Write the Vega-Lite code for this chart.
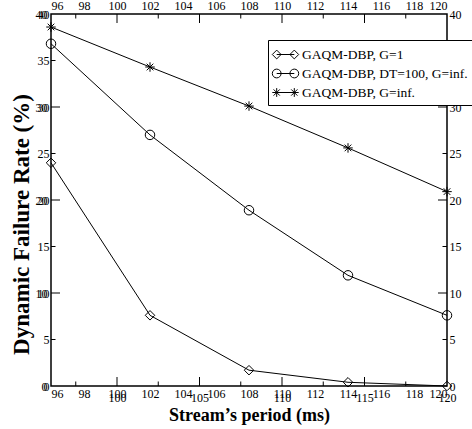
{
  "$schema": "https://vega.github.io/schema/vega-lite/v6.json",
  "autosize": {"type": "none"},
  "width": 396,
  "height": 372,
  "padding": {"left": 51, "top": 14, "right": 25, "bottom": 43},
  "background": "white",
  "config": {
    "font": "Liberation Serif",
    "view": {"stroke": "black", "strokeWidth": 1.5},
    "axis": {
      "domain": false,
      "ticks": false,
      "grid": false,
      "labelColor": "black",
      "titleColor": "black",
      "labelFont": "Liberation Serif",
      "titleFont": "Liberation Serif",
      "labelFontSize": 12,
      "titleFontWeight": "bold"
    }
  },
  "datasets": {
    "curves": [
      {"series": "GAQM-DBP, G=1", "period": 96, "rate": 24.0},
      {"series": "GAQM-DBP, G=1", "period": 102, "rate": 7.6},
      {"series": "GAQM-DBP, G=1", "period": 108, "rate": 1.7},
      {"series": "GAQM-DBP, G=1", "period": 114, "rate": 0.4},
      {"series": "GAQM-DBP, G=1", "period": 120, "rate": 0.0},
      {"series": "GAQM-DBP, DT=100, G=inf.", "period": 96, "rate": 36.8},
      {"series": "GAQM-DBP, DT=100, G=inf.", "period": 102, "rate": 27.0},
      {"series": "GAQM-DBP, DT=100, G=inf.", "period": 108, "rate": 18.9},
      {"series": "GAQM-DBP, DT=100, G=inf.", "period": 114, "rate": 11.9},
      {"series": "GAQM-DBP, DT=100, G=inf.", "period": 120, "rate": 7.6},
      {"series": "GAQM-DBP, G=inf.", "period": 96, "rate": 38.6},
      {"series": "GAQM-DBP, G=inf.", "period": 102, "rate": 34.3},
      {"series": "GAQM-DBP, G=inf.", "period": 108, "rate": 30.1},
      {"series": "GAQM-DBP, G=inf.", "period": 114, "rate": 25.6},
      {"series": "GAQM-DBP, G=inf.", "period": 120, "rate": 20.9}
    ],
    "xticks": [
      {"value": 97.5, "kind": "minor"},
      {"value": 100, "kind": "major"},
      {"value": 102.5, "kind": "minor"},
      {"value": 105, "kind": "major"},
      {"value": 107.5, "kind": "minor"},
      {"value": 110, "kind": "major"},
      {"value": 112.5, "kind": "minor"},
      {"value": 115, "kind": "major"},
      {"value": 117.5, "kind": "minor"}
    ],
    "yticks": [
      {"value": 5, "kind": "minor"},
      {"value": 10, "kind": "major"},
      {"value": 15, "kind": "minor"},
      {"value": 20, "kind": "major"},
      {"value": 25, "kind": "minor"},
      {"value": 30, "kind": "major"},
      {"value": 35, "kind": "minor"}
    ]
  },
  "resolve": {
    "axis": {"x": "independent", "y": "independent"},
    "scale": {"shape": "independent"},
    "legend": {"shape": "independent"}
  },
  "layer": [
    {
      "data": {"name": "xticks"},
      "mark": {"type": "tick", "orient": "vertical", "color": "black", "thickness": 1, "clip": true, "opacity": 1},
      "encoding": {
        "x": {"field": "value", "type": "quantitative", "axis": null},
        "y": {"datum": 0},
        "size": {"field": "kind", "type": "ordinal", "scale": {"domain": ["major", "minor"], "range": [18, 9]}, "legend": null}
      }
    },
    {
      "data": {"name": "xticks"},
      "mark": {"type": "tick", "orient": "vertical", "color": "black", "thickness": 1, "clip": true, "opacity": 1},
      "encoding": {
        "x": {"field": "value", "type": "quantitative", "axis": null},
        "y": {"datum": 40},
        "size": {"field": "kind", "type": "ordinal", "scale": {"domain": ["major", "minor"], "range": [18, 9]}, "legend": null}
      }
    },
    {
      "data": {"name": "yticks"},
      "mark": {"type": "tick", "orient": "horizontal", "color": "black", "thickness": 1, "clip": true, "opacity": 1},
      "encoding": {
        "y": {"field": "value", "type": "quantitative", "axis": null},
        "x": {"datum": 96},
        "size": {"field": "kind", "type": "ordinal", "scale": {"domain": ["major", "minor"], "range": [18, 9]}, "legend": null}
      }
    },
    {
      "data": {"name": "yticks"},
      "mark": {"type": "tick", "orient": "horizontal", "color": "black", "thickness": 1, "clip": true, "opacity": 1},
      "encoding": {
        "y": {"field": "value", "type": "quantitative", "axis": null},
        "x": {"datum": 120},
        "size": {"field": "kind", "type": "ordinal", "scale": {"domain": ["major", "minor"], "range": [18, 9]}, "legend": null}
      }
    },
    {
      "data": {"name": "curves"},
      "mark": {"type": "line", "color": "black", "strokeWidth": 1},
      "encoding": {
        "x": {
          "field": "period", "type": "quantitative",
          "scale": {"domain": [96, 120], "nice": false, "zero": false},
          "axis": {
            "orient": "bottom",
            "title": "Stream’s period (ms)",
            "titleFontSize": 18,
            "titlePadding": 3,
            "values": [100, 105, 110, 115, 120],
            "labelPadding": 6,
            "labelFlush": false
          }
        },
        "y": {
          "field": "rate", "type": "quantitative",
          "scale": {"domain": [0, 40], "nice": false},
          "axis": {
            "orient": "left",
            "title": "Dynamic Failure Rate (%)",
            "titleFontSize": 23,
            "titleX": -18,
            "titleY": 210,
            "values": [0, 10, 20, 30, 40],
            "labelPadding": 4,
            "labelFlush": false
          }
        },
        "detail": {"field": "series", "type": "nominal"}
      }
    },
    {
      "data": {"name": "curves"},
      "mark": {"type": "point", "filled": false, "color": "black", "strokeWidth": 1, "size": 90, "opacity": 1},
      "encoding": {
        "x": {"field": "period", "type": "quantitative", "axis": null},
        "y": {"field": "rate", "type": "quantitative", "axis": null},
        "shape": {
          "field": "series", "type": "nominal",
          "scale": {
            "domain": ["GAQM-DBP, G=1", "GAQM-DBP, DT=100, G=inf.", "GAQM-DBP, G=inf."],
            "range": ["diamond", "circle", "M-1,0L1,0M0,-1L0,1M-0.7,-0.7L0.7,0.7M-0.7,0.7L0.7,-0.7"]
          },
          "legend": null
        }
      }
    },
    {
      "data": {"name": "curves"},
      "transform": [{"filter": "false"}],
      "mark": {"type": "point", "filled": false, "color": "black", "strokeWidth": 1, "opacity": 1},
      "encoding": {
        "x": {"field": "period", "type": "quantitative", "axis": null},
        "y": {"field": "rate", "type": "quantitative", "axis": null},
        "shape": {
          "field": "series", "type": "nominal",
          "scale": {
            "domain": ["GAQM-DBP, G=1", "GAQM-DBP, DT=100, G=inf.", "GAQM-DBP, G=inf."],
            "range": [
              "M-1.1,0L1.1,0M-1.65,0L-1.1,-0.55L-0.55,0L-1.1,0.55ZM0.55,0L1.1,-0.55L1.65,0L1.1,0.55Z",
              "M-1.1,0L1.1,0M-0.55,0A0.55,0.55,0,1,1,-1.65,0A0.55,0.55,0,1,1,-0.55,0M1.65,0A0.55,0.55,0,1,1,0.55,0A0.55,0.55,0,1,1,1.65,0",
              "M-1.1,0L1.1,0M-1.65,0L-0.55,0M-1.1,-0.55L-1.1,0.55M-1.49,-0.39L-0.71,0.39M-1.49,0.39L-0.71,-0.39M1.65,0L0.55,0M1.1,-0.55L1.1,0.55M1.49,-0.39L0.71,0.39M1.49,0.39L0.71,-0.39"
            ]
          },
          "legend": {
            "orient": "none",
            "legendX": 217,
            "legendY": 26,
            "title": null,
            "strokeColor": "black",
            "fillColor": "white",
            "padding": 6,
            "symbolSize": 256,
            "symbolOffset": 3,
            "labelOffset": 8,
            "labelFont": "Liberation Serif",
            "labelFontSize": 13.5,
            "labelColor": "black",
            "labelLimit": 400,
            "rowPadding": 4,
            "symbolStrokeColor": "black",
            "symbolFillColor": "transparent",
            "symbolStrokeWidth": 1
          }
        }
      }
    }
  ]
}
